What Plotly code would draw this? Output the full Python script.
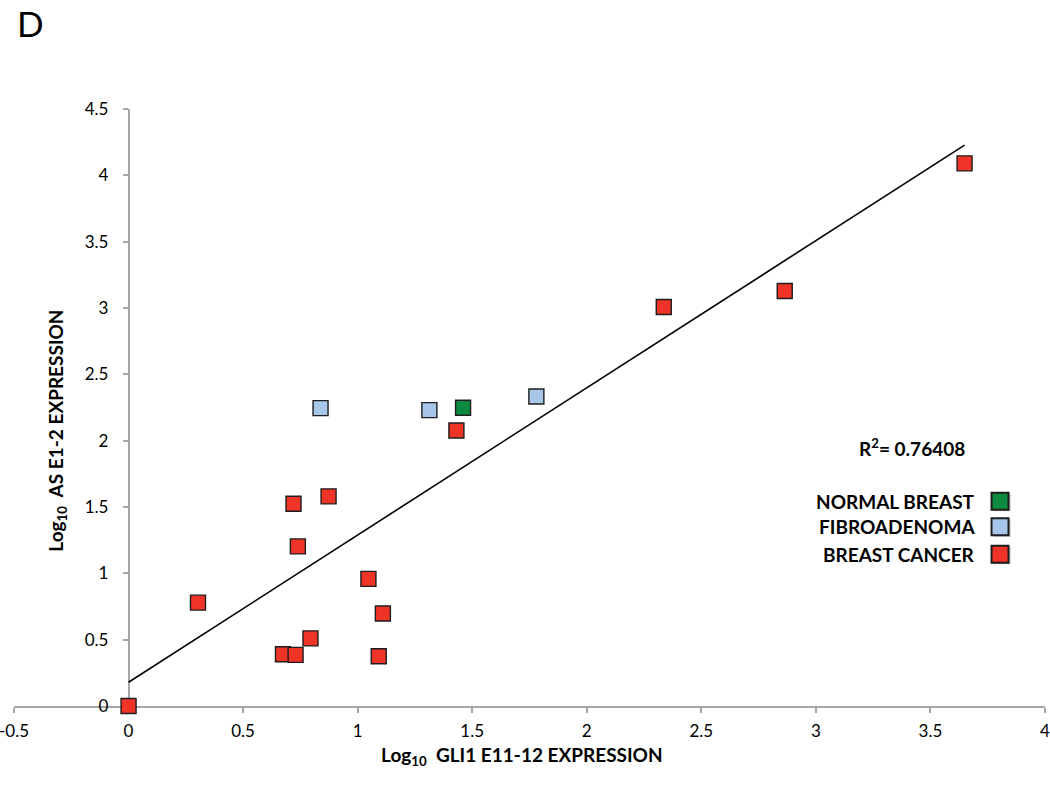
import numpy as np
import plotly.graph_objects as go

# ---------------- data ----------------
cancer_x = [0.0, 0.303, 0.674, 0.729, 0.794, 0.720, 0.739, 0.873, 1.047, 1.110, 1.092, 1.431, 2.336, 2.864, 3.649]
cancer_y = [0.0, 0.779, 0.390, 0.385, 0.510, 1.525, 1.203, 1.580, 0.958, 0.697, 0.375, 2.077, 3.008, 3.128, 4.090]
fibro_x = [0.838, 1.313, 1.780]
fibro_y = [2.245, 2.230, 2.333]
normal_x = [1.460]
normal_y = [2.248]

x_ticks = [-0.5, 0, 0.5, 1, 1.5, 2, 2.5, 3, 3.5, 4]
x_tick_labels = ["-0.5", "0", "0.5", "1", "1.5", "2", "2.5", "3", "3.5", "4"]
y_ticks = [0, 0.5, 1, 1.5, 2, 2.5, 3, 3.5, 4, 4.5]
y_tick_labels = ["0", "0.5", "1", "1.5", "2", "2.5", "3", "3.5", "4", "4.5"]

legend_labels = ["NORMAL BREAST", "FIBROADENOMA", "BREAST CANCER"]
r2_label = "R<sup>2</sup>= 0.76408"
x_title = "Log<sub>10</sub>  GLI1 E11-12 EXPRESSION"
y_title = "Log<sub>10</sub>  AS E1-2 EXPRESSION"
panel_label = "D"

# ---------------- styles ----------------
RED = "#EF3326"
BLUE = "#A8C5EA"
GREEN = "#0E8A40"
EDGE = "#1E1E1E"
AXIS = "#A6A6A6"
FONT = "Lato"

W, H = 1050, 788
ML, MT = 14, 109
PW, PH = 1031.5, 597.5
MR = W - ML - PW
MB = H - MT - PH
XR = [-0.5, 4]
YR = [0, 4.5]


def px_x(p):
    return (p - ML) / PW


def px_y(p):
    return (MT + PH - p) / PH


# regression trendline from all points
all_x = np.array(cancer_x + fibro_x + normal_x)
all_y = np.array(cancer_y + fibro_y + normal_y)
slope, intercept = np.polyfit(all_x, all_y, 1)
line_x = np.array([all_x.min(), all_x.max()])
line_y = intercept + slope * line_x

fig = go.Figure()

fig.add_trace(go.Scatter(x=line_x, y=line_y, mode="lines",
                         line=dict(color="black", width=1.6),
                         hoverinfo="skip", showlegend=False))

marker_base = dict(symbol="square", size=15, line=dict(color=EDGE, width=1.4))
for xs, ys, col, name in [(cancer_x, cancer_y, RED, legend_labels[2]),
                          (fibro_x, fibro_y, BLUE, legend_labels[1]),
                          (normal_x, normal_y, GREEN, legend_labels[0])]:
    fig.add_trace(go.Scatter(x=xs, y=ys, mode="markers", name=name,
                             marker=dict(color=col, **marker_base),
                             cliponaxis=False, showlegend=False))

# y axis crossing at x = 0
ypos = (0 - XR[0]) / (XR[1] - XR[0])

fig.update_layout(
    width=W, height=H,
    margin=dict(l=ML, r=MR, t=MT, b=MB, autoexpand=False),
    paper_bgcolor="white", plot_bgcolor="white",
    font=dict(family=FONT, color="black", size=17),
    xaxis=dict(range=XR, tickvals=x_ticks, ticktext=x_tick_labels,
               showgrid=False, zeroline=False, showline=True,
               linecolor=AXIS, linewidth=1.5, ticks="outside",
               ticklen=5, tickcolor=AXIS, tickwidth=1.5,
               tickfont=dict(size=17, family=FONT),
               ticklabelstandoff=4, ticklabeloverflow="allow",
               automargin=False, layer="below traces"),
    yaxis=dict(range=YR, tickvals=y_ticks, ticktext=y_tick_labels,
               anchor="free", position=ypos,
               showgrid=False, zeroline=False, showline=True,
               linecolor=AXIS, linewidth=1.5, ticks="outside",
               ticklen=5, tickcolor=AXIS, tickwidth=1.5,
               tickfont=dict(size=17, family=FONT),
               ticklabelstandoff=11, ticklabeloverflow="allow",
               automargin=False, layer="below traces"),
    showlegend=False,
)

annotations = [
    dict(text=panel_label, x=px_x(15), y=px_y(0), xref="paper", yref="paper",
         xanchor="left", yanchor="top", showarrow=False,
         font=dict(size=35, family=FONT, color="black")),
    dict(text="<b>" + x_title + "</b>", x=px_x(522), y=px_y(757),
         xref="paper", yref="paper", xanchor="center", yanchor="middle",
         showarrow=False, font=dict(size=19, family=FONT)),
    dict(text="<b>" + y_title + "</b>", x=px_x(57), y=px_y(431),
         xref="paper", yref="paper", xanchor="center", yanchor="middle",
         textangle=-90, showarrow=False, font=dict(size=19, family=FONT)),
    dict(text="<b>" + r2_label + "</b>", x=px_x(967), y=px_y(448),
         xref="paper", yref="paper", xanchor="right", yanchor="middle",
         showarrow=False, font=dict(size=19, family=FONT)),
]

legend_y = [501.5, 527, 554.5]
legend_cols = [GREEN, BLUE, RED]
shapes = []
for lab, yy, col in zip(legend_labels, legend_y, legend_cols):
    annotations.append(dict(text="<b>" + lab + "</b>", x=px_x(977), y=px_y(yy),
                            xref="paper", yref="paper", xanchor="right",
                            yanchor="middle", showarrow=False,
                            font=dict(size=19, family=FONT)))
    # shadow
    shapes.append(dict(type="rect", xref="paper", yref="paper",
                       xsizemode="pixel", ysizemode="pixel",
                       xanchor=px_x(1001), yanchor=px_y(yy),
                       x0=-7, x1=10, y0=-10, y1=7,
                       fillcolor="rgba(0,0,0,0.25)", line=dict(width=0)))
    shapes.append(dict(type="rect", xref="paper", yref="paper",
                       xsizemode="pixel", ysizemode="pixel",
                       xanchor=px_x(1000.5), yanchor=px_y(yy),
                       x0=-8.5, x1=8.5, y0=-8.5, y1=8.5,
                       fillcolor=col, line=dict(color=EDGE, width=2)))

fig.update_layout(annotations=annotations, shapes=shapes)

fig.write_html("out.html", config={"displayModeBar": False},
               post_script="document.body.style.margin='0';document.body.style.padding='0';")
